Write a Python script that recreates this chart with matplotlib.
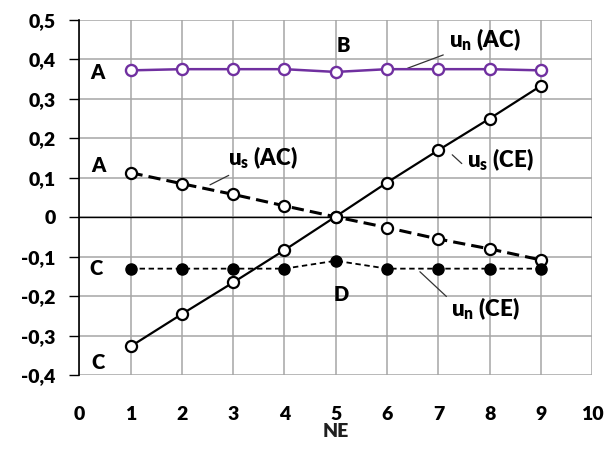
import matplotlib
matplotlib.use("Agg")
import matplotlib.pyplot as plt
from matplotlib.ticker import FuncFormatter

plt.rcParams['font.family'] = ['Lato', 'DejaVu Sans']
plt.rcParams['font.weight'] = 'heavy'
plt.rcParams['mathtext.fontset'] = 'custom'
plt.rcParams['mathtext.rm'] = 'Lato:heavy'
plt.rcParams['mathtext.it'] = 'Lato:heavy'
plt.rcParams['mathtext.bf'] = 'Lato:heavy'

# element number along the path
ne = [1, 2, 3, 4, 5, 6, 7, 8, 9]

un_ac = [0.372, 0.375, 0.375, 0.375, 0.368, 0.375, 0.375, 0.375, 0.372]
us_ce = [-0.327, -0.245, -0.165, -0.083, 0.002, 0.088, 0.170, 0.250, 0.333]
us_ac = [0.113, 0.085, 0.058, 0.029, 0.001, -0.026, -0.055, -0.080, -0.108]
un_ce = [-0.130, -0.130, -0.130, -0.130, -0.110, -0.130, -0.130, -0.130, -0.130]

x_ticks = list(range(0, 11))
y_ticks = [-0.4, -0.3, -0.2, -0.1, 0, 0.1, 0.2, 0.3, 0.4, 0.5]

purple = '#7030A0'

fig = plt.figure(figsize=(6.05, 4.5), dpi=100)
ax = fig.add_axes([0.131, 0.166, 0.848, 0.790])

ax.plot(ne, un_ac, '-o', color=purple, lw=1.8, ms=8, mfc='white', mec=purple, mew=1.7, zorder=4)
ax.plot(ne, us_ce, '-o', color='black', lw=1.6, ms=8, mfc='white', mec='black', mew=1.6, zorder=4)
ax.plot(ne, us_ac, '--o', color='black', lw=2.2, ms=8, mfc='white', mec='black', mew=1.6,
        dashes=(4, 2), zorder=4)
ax.plot(ne, un_ce, '--o', color='black', lw=1.3, ms=8, mfc='black', mec='black',
        dashes=(3, 2), zorder=4)

ax.set_xlim(0, 10)
ax.set_ylim(-0.4, 0.5)
ax.set_xticks(x_ticks)
ax.set_yticks(y_ticks)
ax.grid(True, color='#a6a6a6', lw=1.1)
ax.set_axisbelow(True)
ax.axhline(0, color='black', lw=1.0, zorder=2)

fmt = FuncFormatter(lambda v, p: ('%g' % round(v, 1)).replace('.', ','))
ax.yaxis.set_major_formatter(fmt)
ax.tick_params(axis='y', length=7, width=1.0, pad=10, labelsize=14)
ax.tick_params(axis='x', length=0, pad=22, labelsize=14)

for side in ['top', 'right', 'bottom']:
    ax.spines[side].set_visible(False)
ax.spines['left'].set_linewidth(1.2)

ax.set_xlabel('NE', fontsize=14, fontweight='heavy', color='#1f1f1f', labelpad=0)

# point letters
for tx, ty, s in [(0.35, 0.366, 'A'), (5.15, 0.434, 'B'), (0.38, 0.132, 'A'),
                  (0.33, -0.13, 'C'), (5.1, -0.195, 'D'), (0.37, -0.368, 'C')]:
    ax.text(tx, ty, s, fontsize=14.5, fontweight='heavy', ha='center', va='center')

# curve labels with leader lines
ann = dict(fontsize=16, fontweight='heavy', va='center', ha='left')
lead = dict(arrowstyle='-', color='#333333', lw=0.9)
ax.annotate('u$_\\mathrm{n}$ (AC)', xy=(6.35, 0.375), xytext=(7.2, 0.45),
            arrowprops=lead, **ann)
ax.annotate('u$_\\mathrm{s}$ (AC)', xy=(2.5, 0.079), xytext=(2.9, 0.15),
            arrowprops=lead, **ann)
ax.annotate('u$_\\mathrm{s}$ (CE)', xy=(7.23, 0.163), xytext=(7.55, 0.145),
            arrowprops=dict(arrowstyle='-', color='#333333', lw=0.9,
                            relpos=(0, 0.2)), **ann)
ax.annotate('u$_\\mathrm{n}$ (CE)', xy=(6.6, -0.133), xytext=(7.25, -0.232),
            arrowprops=dict(arrowstyle='-', color='#333333', lw=0.9,
                            relpos=(0, 0.8)), **ann)

fig.savefig('out.png', dpi=100)
